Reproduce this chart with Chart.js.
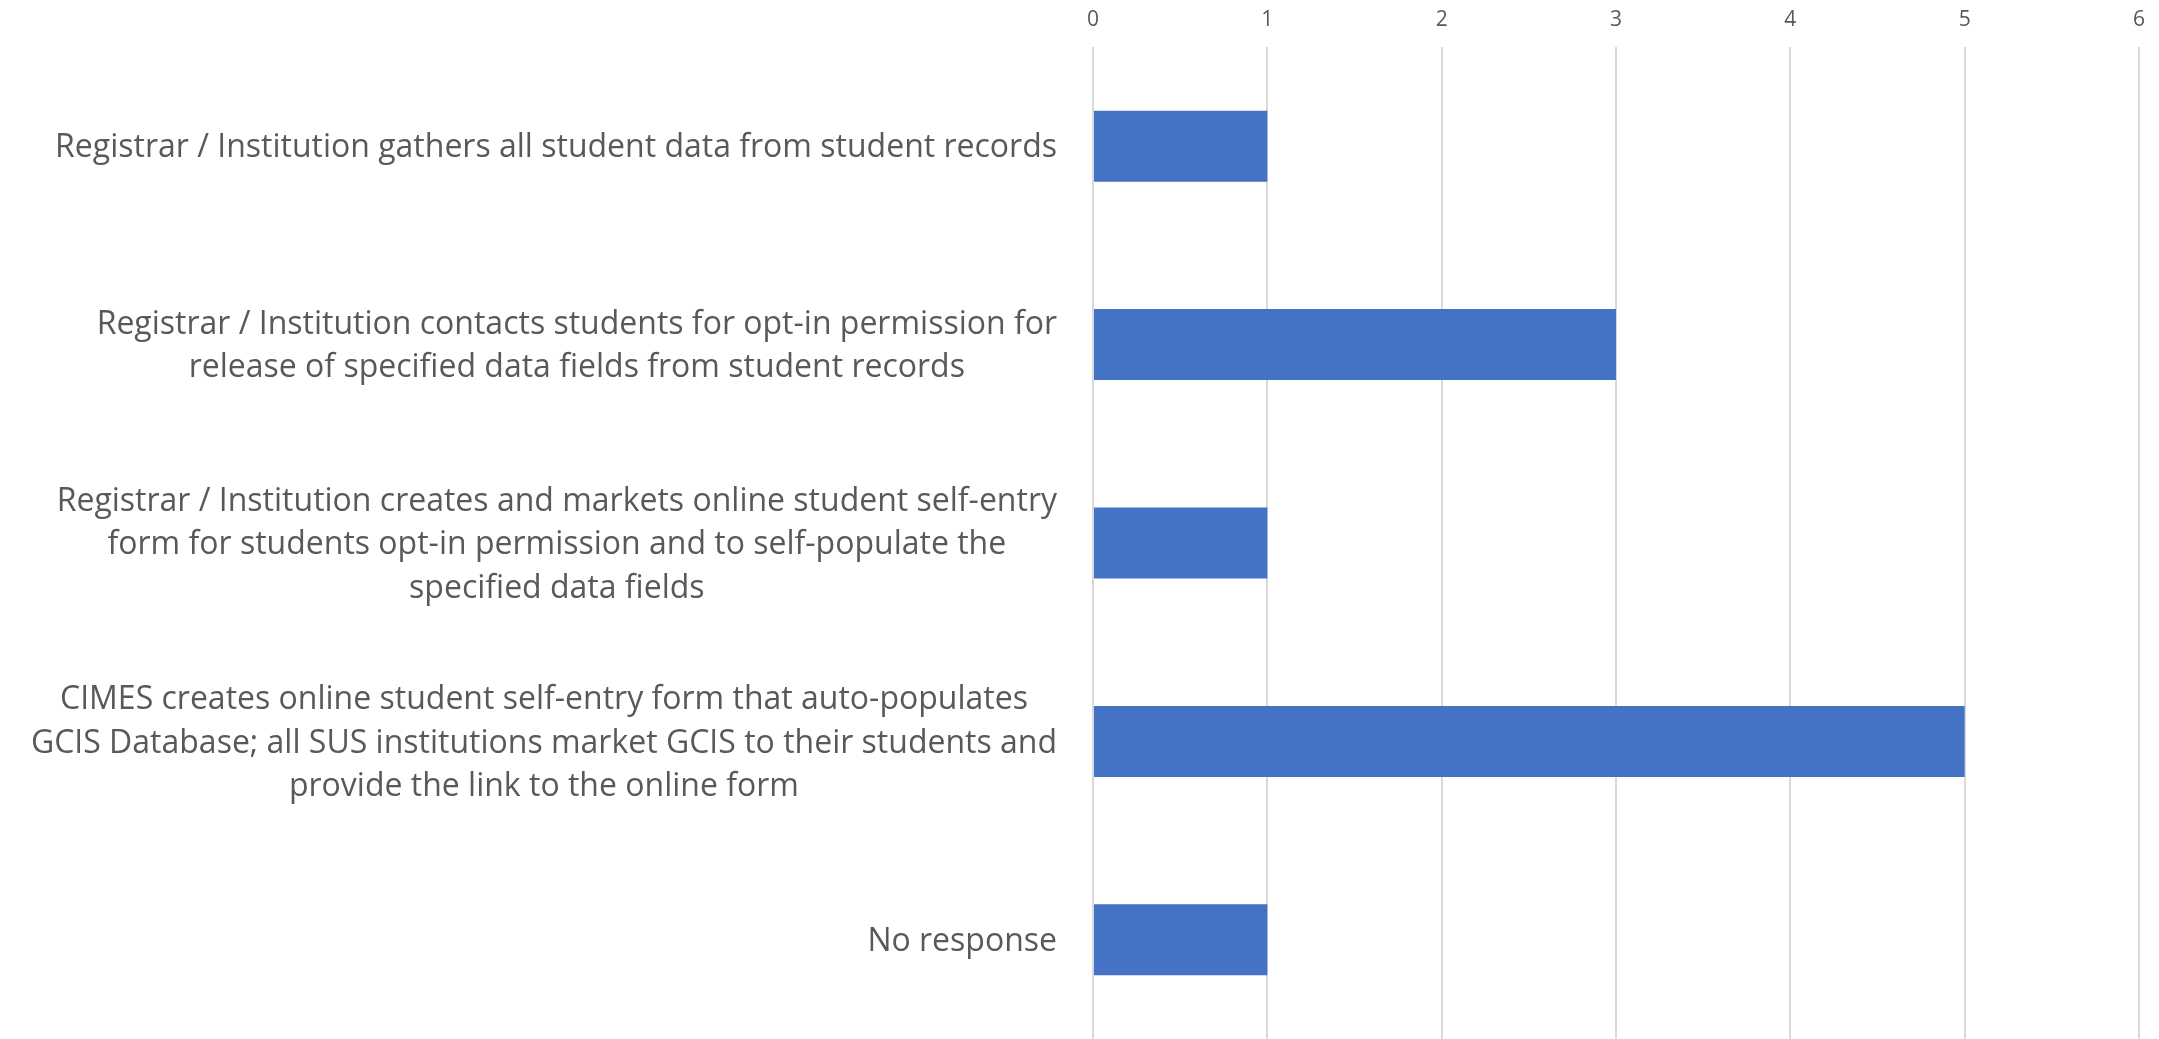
<!DOCTYPE html>
<html>
<head>
<meta charset="utf-8">
<script src="https://cdn.jsdelivr.net/npm/chart.js@4.4.1/dist/chart.umd.min.js"></script>
<style>
    html, body { margin: 0; padding: 0; background: #ffffff; }
    #wrap { width: 2159px; height: 1039px; position: relative; }
</style>
</head>
<body>
<div id="wrap"><canvas id="barChart"></canvas></div>
<script>
// Answer options (each label is a list of wrapped lines)
var categories = [
    ["Registrar / Institution gathers all student data from student records"],
    ["Registrar / Institution contacts students for opt-in permission for",
     "release of specified data fields from student records"],
    ["Registrar / Institution creates and markets online student self-entry",
     "form for students opt-in permission and to self-populate the",
     "specified data fields"],
    ["CIMES creates online student self-entry form that auto-populates",
     "GCIS Database; all SUS institutions market GCIS to their students and",
     "provide the link to the online form"],
    ["No response"]
];

// Number of responses
var responses = [1, 3, 1, 5, 1];

// x axis range
var axisMin = 0;
var axisMax = 6;
var axisStep = 1;

var textColor = '#595959';
var labelFont = '32px "Open Sans"';

// Draws the category labels: lines centred on each other, block right aligned
var categoryLabels = {
    id: 'categoryLabels',
    afterDraw(chart) {
        var ctx = chart.ctx;
        var yScale = chart.scales.y;
        var rightEdge = chart.chartArea.left - 36;
        var lineHeight = 43.5;
        ctx.save();
        ctx.font = labelFont;
        ctx.fillStyle = textColor;
        ctx.textAlign = 'center';
        ctx.textBaseline = 'middle';
        chart.data.labels.forEach(function (lines, i) {
            var maxW = 0;
            lines.forEach(function (l) { maxW = Math.max(maxW, ctx.measureText(l).width); });
            var cx = rightEdge - maxW / 2;
            var cy = yScale.getPixelForTick(i) + 2;
            var startY = cy - (lines.length - 1) * lineHeight / 2;
            lines.forEach(function (l, j) {
                ctx.fillText(l, cx, startY + j * lineHeight);
            });
        });
        ctx.restore();
    }
};

var ctx = document.getElementById('barChart').getContext('2d');
var barChart = new Chart(ctx, {
    type: 'bar',
    data: {
        labels: categories,
        datasets: [{
            data: responses,
            backgroundColor: '#4472C4',
            borderWidth: 0,
            barPercentage: 1,
            categoryPercentage: 0.358
        }]
    },
    options: {
        indexAxis: 'y',
        responsive: true,
        maintainAspectRatio: false,
        animation: false,
        layout: {
            padding: { left: 0, right: 18, top: 0, bottom: 0 }
        },
        scales: {
            x: {
                position: 'top',
                min: axisMin,
                max: axisMax,
                ticks: {
                    stepSize: axisStep,
                    color: textColor,
                    font: { family: 'Open Sans', size: 21 },
                    padding: 14
                },
                grid: {
                    color: '#d9d9d9',
                    lineWidth: 2,
                    drawTicks: false
                },
                border: { display: false },
                afterFit: function (scale) {
                    scale.height = 47;
                }
            },
            y: {
                ticks: { display: false },
                grid: { display: false },
                border: { display: false },
                afterFit: function (scale) {
                    scale.width = 1093;
                }
            }
        },
        plugins: {
            legend: { display: false },
            tooltip: { enabled: false }
        }
    },
    plugins: [categoryLabels]
});
</script>
</body>
</html>
